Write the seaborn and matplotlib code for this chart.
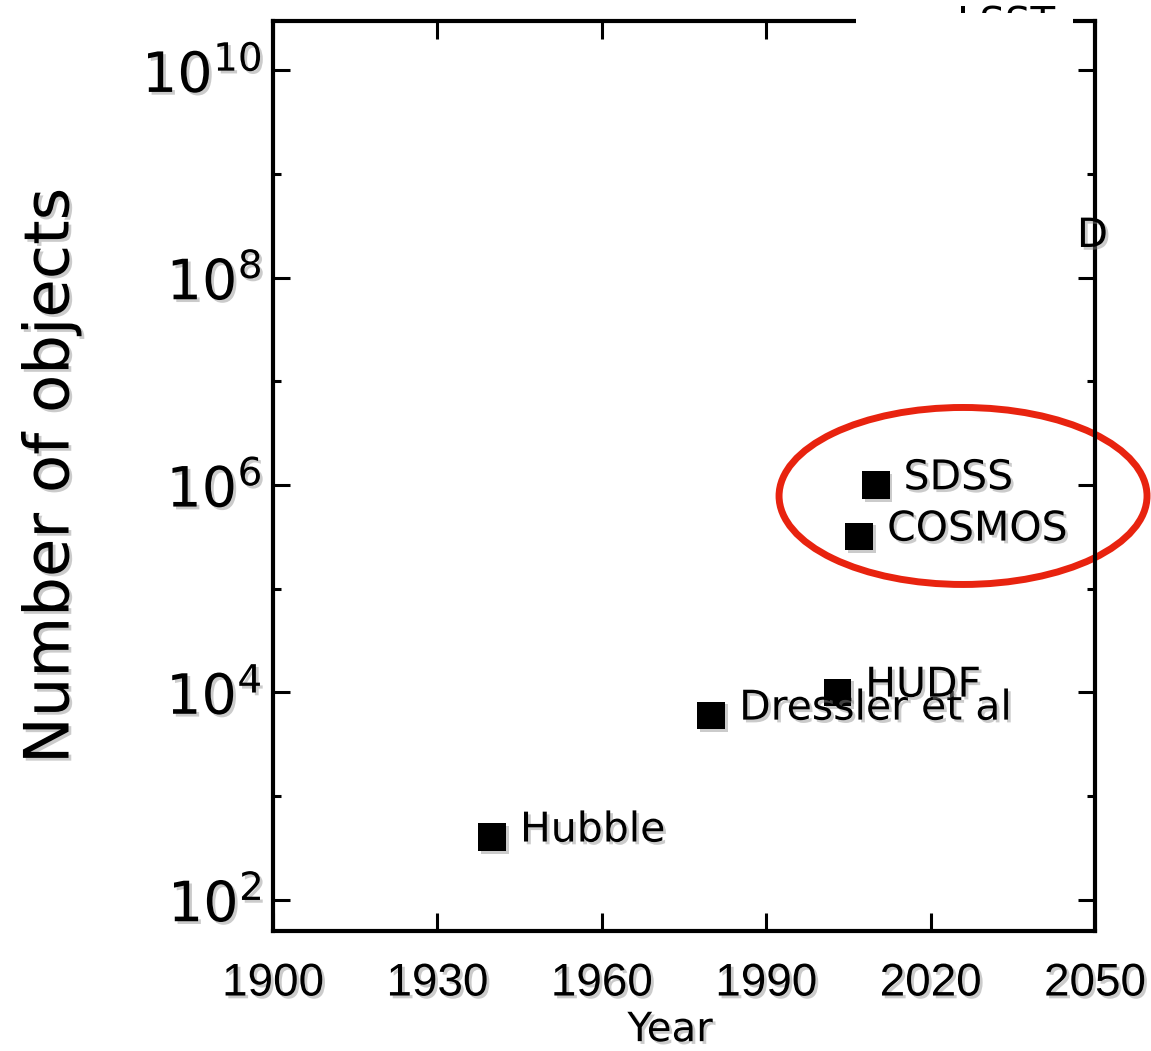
import matplotlib
matplotlib.use("Agg")
import matplotlib.pyplot as plt
import seaborn as sns
import pandas as pd
from matplotlib.patches import Ellipse, Rectangle
from matplotlib import patheffects as pe
from matplotlib.ticker import FixedLocator, LogFormatterMathtext, NullFormatter, NullLocator

# ---- data ----
surveys = ["Hubble", "Dressler et al", "HUDF", "COSMOS", "SDSS"]
years = [1940, 1980, 2003, 2007, 2010]
counts = [4.0e2, 6.0e3, 1.0e4, 3.2e5, 1.0e6]

xtick_years = [1900, 1930, 1960, 1990, 2020, 2050]
y_major = [1e2, 1e4, 1e6, 1e8, 1e10]
y_minor = [1e3, 1e5, 1e7, 1e9]
hidden_labels = ["LSST", "D"]

sns.set_theme(style="white")
plt.rcParams["font.family"] = ["DejaVu Sans"]

shadow = [pe.SimplePatchShadow(offset=(2, -2), shadow_rgbFace="0.55", alpha=0.45), pe.Normal()]

fig = plt.figure(figsize=(11.51, 10.51), dpi=100)
ax = fig.add_axes([0.2372, 0.1142, 0.7141, 0.8658])

df = pd.DataFrame({"year": years, "count": counts, "survey": surveys})
sns.scatterplot(data=df, x="year", y="count", marker="s", s=400, color="black",
                edgecolor="none", linewidth=0, ax=ax, zorder=4, legend=False)
ax.collections[0].set_path_effects(shadow)

ax.set_yscale("log")
ax.set_xlim(1900, 2050)
ax.set_ylim(50, 3e10)

ax.set_xticks(xtick_years, labels=[str(y) for y in xtick_years],
              fontfamily="Liberation Sans", fontsize=33)
ax.xaxis.set_minor_locator(NullLocator())
ax.yaxis.set_major_locator(FixedLocator(y_major))
ax.yaxis.set_major_formatter(LogFormatterMathtext())
ax.yaxis.set_minor_locator(FixedLocator(y_minor))
ax.yaxis.set_minor_formatter(NullFormatter())

ax.tick_params(axis="x", which="major", direction="in", length=13, width=2.2,
               top=True, bottom=True, pad=22, colors="black")
ax.tick_params(axis="y", which="major", direction="in", length=12, width=2.2,
               left=True, right=True, pad=8, labelsize=40, colors="black")
ax.tick_params(axis="y", which="minor", direction="in", length=6, width=2.2,
               left=True, right=True, colors="black")
for lbl in ax.get_xticklabels() + ax.get_yticklabels():
    lbl.set_path_effects(shadow)

for sp in ax.spines.values():
    sp.set_visible(True)
    sp.set_color("black")
    sp.set_linewidth(3)
    sp.set_path_effects(shadow)

ax.set_xlabel("Year", fontsize=29, color="black", path_effects=shadow)
ax.xaxis.set_label_coords(0.483, -0.087)
ax.set_ylabel("Number of objects", fontsize=45, color="black", path_effects=shadow)
ax.yaxis.set_label_coords(-0.233, 0.5)

for name, x, y in zip(surveys, years, counts):
    ax.annotate(name, (x, y), xytext=(20, -3), textcoords="offset points",
                fontsize=29.5, ha="left", va="baseline", color="black",
                path_effects=shadow, zorder=5)

# red highlight ellipse
ell = Ellipse((0.8367, 0.5281), 0.3197, 0.1684, transform=fig.transFigure,
              fill=False, edgecolor="#e8230f", linewidth=5, clip_on=False, zorder=2.3)
ax.add_artist(ell)

# partially hidden labels and the white mask over the upper right
ax.text(0.8315, 0.9648, hidden_labels[0], transform=fig.transFigure, fontsize=29,
        ha="left", va="baseline", zorder=9, color="black")
mask = Rectangle((0.7437, 0.746), 0.1885, 0.2417, transform=fig.transFigure,
                 facecolor="white", edgecolor="none", zorder=10, clip_on=False)
ax.add_artist(mask)
ax.text(0.9357, 0.765, hidden_labels[1], transform=fig.transFigure, fontsize=29,
        ha="left", va="baseline", zorder=11, color="black", path_effects=shadow)

fig.savefig("out.png", dpi=100)
